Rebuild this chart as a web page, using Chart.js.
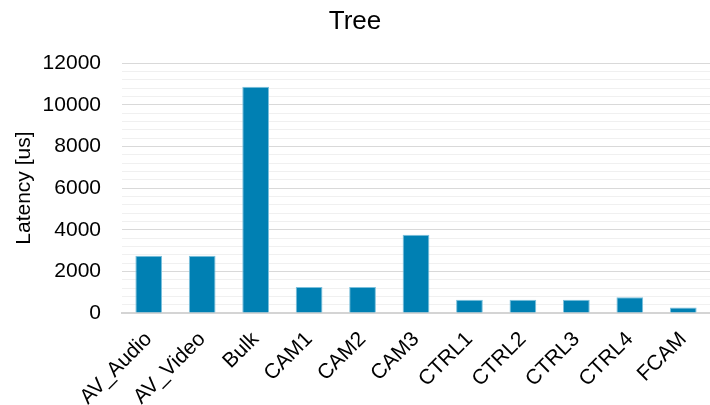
<!DOCTYPE html>
<html>
<head>
<meta charset="utf-8">
<script src="https://cdn.jsdelivr.net/npm/chart.js@4/dist/chart.umd.min.js"></script>
<style>
  html, body { margin: 0; padding: 0; background: #fff; }
  #wrap { width: 710px; height: 405px; position: relative; }
</style>
</head>
<body>
<div id="wrap"><canvas id="c" width="710" height="405"></canvas></div>
<script>
// Latency per traffic class, tree topology
const categories = ['AV_Audio', 'AV_Video', 'Bulk', 'CAM1', 'CAM2', 'CAM3', 'CTRL1', 'CTRL2', 'CTRL3', 'CTRL4', 'FCAM'];
const latencyUs = [2750, 2750, 10870, 1250, 1250, 3760, 640, 640, 640, 755, 265];
const yMin = 0;
const yMax = 12000;
const majorStep = 2000;
const minorStep = 400;

const FONT = '"Liberation Sans", Arial, sans-serif';

new Chart(document.getElementById('c'), {
  type: 'bar',
  data: {
    labels: categories,
    datasets: [{
      label: 'Latency',
      data: latencyUs,
      backgroundColor: '#0080B3',
      borderColor: '#7cc0dc',
      borderWidth: { top: 1, left: 1, right: 1, bottom: 0 },
      barPercentage: 0.5,
      categoryPercentage: 1.0
    }]
  },
  options: {
    responsive: false,
    animation: false,
    layout: { padding: { left: 0, right: 0, top: 0, bottom: 0 } },
    plugins: {
      legend: { display: false },
      tooltip: { enabled: false },
      title: {
        display: true,
        text: 'Tree',
        color: '#000',
        font: { family: FONT, size: 26, weight: 'normal' },
        padding: { top: 6, bottom: 26 }
      }
    },
    scales: {
      x: {
        grid: { display: false, drawTicks: false },
        border: { display: true, color: '#d4d4d4', width: 2 },
        ticks: {
          color: '#000',
          font: { family: FONT, size: 21 },
          minRotation: 45,
          maxRotation: 45,
          autoSkip: false,
          padding: 14
        },
        afterFit(scale) {
          scale.height = 92;
          scale.paddingRight = 0;
        }
      },
      y: {
        min: yMin,
        max: yMax,
        grid: {
          drawTicks: false,
          color(ctx) {
            if (ctx.tick && ctx.tick.value === 0) return 'rgba(0,0,0,0)';
            return ctx.tick && ctx.tick.value % majorStep === 0 ? '#d9d9d9' : '#f0f0f0';
          },
          lineWidth: 1
        },
        border: { display: false },
        ticks: {
          stepSize: minorStep,
          autoSkip: false,
          color: '#000',
          font: { family: FONT, size: 21 },
          padding: 21,
          callback(value) { return value % majorStep === 0 ? String(value) : ''; }
        },
        title: {
          display: true,
          text: 'Latency [us]',
          color: '#000',
          font: { family: FONT, size: 21 },
          padding: { top: 12, bottom: 0 }
        },
        afterFit(scale) { scale.width = 122; }
      }
    }
  }
});
</script>
</body>
</html>
